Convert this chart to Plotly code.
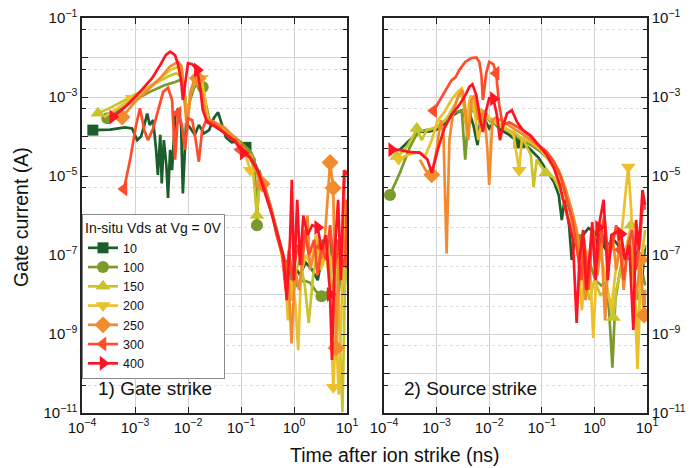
import plotly.graph_objects as go

# ---------------- data (time in ns, gate current in A) ----------------
series_names = ["10", "100", "150", "200", "250", "300", "400"]

# Panel 1: gate strike
gate_t_10 = [1.6e-4, 3.4e-4, 6.5e-4, 8.8e-4, 1.1e-3, 1.3e-3, 1.5e-3, 1.7e-3, 1.9e-3, 2.2e-3, 2.5e-3, 2.7e-3, 3.0e-3, 3.2e-3, 3.5e-3, 3.9e-3, 4.2e-3, 4.6e-3, 5.0e-3, 5.7e-3, 6.5e-3, 7.4e-3, 8.0e-3, 9.2e-3, 1.1e-2, 1.35e-2, 1.6e-2, 2.0e-2, 2.5e-2, 3.1e-2, 3.7e-2, 4.4e-2, 5.2e-2, 6.7e-2, 8.7e-2, 0.124, 0.17, 0.25, 0.35, 0.47, 0.61, 0.70, 0.75, 0.88, 1.0, 1.3, 1.65, 2.2, 2.8, 3.3, 4.2, 5.2, 6.5, 7.4, 8.4, 10.0]
gate_i_10 = [1.45e-4, 1.5e-4, 1.7e-4, 1.6e-4, 8.1e-5, 1.0e-4, 1.95e-4, 3.8e-4, 1.95e-4, 2.6e-4, 4.6e-5, 1.07e-5, 1.1e-4, 6.5e-6, 8.1e-5, 1.9e-5, 2.8e-6, 4.6e-5, 1.4e-5, 3.0e-4, 5.2e-4, 1.95e-4, 3.6e-6, 2.2e-4, 1.65e-4, 1.1e-4, 1.95e-4, 1.2e-4, 1.45e-4, 3.0e-4, 4.1e-4, 1.95e-4, 9.5e-5, 7.1e-5, 7.5e-5, 5.3e-5, 2.6e-5, 8.0e-6, 1.85e-6, 4.3e-7, 1.0e-7, 1.7e-8, 7.5e-8, 7.2e-9, 5.6e-8, 3.1e-8, 6.5e-8, 4.2e-8, 2.3e-8, 7.5e-8, 1.8e-7, 1.0e-7, 2.4e-7, 3.1e-8, 4.3e-7, 1.0e-6]
gate_m_10 = [1.6e-4, 0.124, 4.2]

gate_t_100 = [3.0e-4, 5.2e-4, 1.0e-3, 1.9e-3, 3.7e-3, 5.7e-3, 7.1e-3, 8.4e-3, 9.6e-3, 1.1e-2, 1.3e-2, 1.5e-2, 1.9e-2, 2.2e-2, 2.6e-2, 4.0e-2, 6.2e-2, 9.6e-2, 0.15, 0.18, 0.20, 0.22, 0.28, 0.38, 0.50, 0.64, 0.77, 0.91, 1.15, 1.5, 2.0, 2.6, 3.3, 4.4, 5.5, 6.5, 7.7, 8.8, 10.0]
gate_i_100 = [2.9e-4, 4.7e-4, 8.4e-4, 1.35e-3, 2.0e-3, 2.4e-3, 2.7e-3, 1.7e-3, 4.2e-4, 8.4e-4, 1.7e-3, 2.1e-3, 1.8e-3, 6.3e-4, 2.2e-4, 1.8e-4, 1.2e-4, 7.5e-5, 4.2e-5, 2.6e-5, 5.7e-7, 1.4e-5, 5.9e-6, 1.4e-6, 3.2e-7, 8.7e-8, 1.3e-8, 4.7e-8, 1.7e-8, 2.3e-8, 2.0e-8, 1.2e-8, 9.0e-9, 1.2e-8, 1.7e-8, 4.0e-9, 4.2e-8, 9.7e-9, 1.0e-7]
gate_m_100 = [3.0e-4, 1.9e-2, 0.20, 3.3]

gate_t_150 = [2.0e-4, 3.4e-4, 6.5e-4, 1.24e-3, 2.4e-3, 4.2e-3, 6.0e-3, 7.4e-3, 8.8e-3, 1.0e-2, 1.1e-2, 1.35e-2, 1.7e-2, 2.0e-2, 2.3e-2, 3.2e-2, 5.0e-2, 7.7e-2, 0.12, 0.16, 0.20, 0.23, 0.29, 0.40, 0.52, 0.64, 0.80, 0.95, 1.1, 1.3, 1.6, 1.9, 2.3, 2.8, 3.5, 4.4, 5.5, 6.5, 7.4, 8.2, 9.2, 10.0]
gate_i_150 = [3.9e-4, 5.3e-4, 8.4e-4, 1.35e-3, 2.2e-3, 3.3e-3, 4.0e-3, 3.3e-3, 9.3e-4, 3.5e-4, 1.1e-3, 2.4e-3, 2.7e-3, 1.1e-3, 2.9e-4, 2.1e-4, 1.45e-4, 8.1e-5, 4.6e-5, 3.1e-5, 1.0e-6, 1.07e-5, 4.4e-6, 1.0e-6, 2.4e-7, 6.8e-8, 1.7e-8, 7.2e-9, 4.2e-8, 7.5e-8, 1.7e-8, 1.9e-9, 3.1e-8, 1.35e-7, 5.6e-8, 2.4e-7, 7.2e-9, 7.5e-8, 5.2e-10, 1.05e-11, 2.3e-8, 1.8e-7]
gate_m_150 = [2.0e-4, 0.20, 2.8]

gate_t_200 = [2.6e-4, 4.8e-4, 8.8e-4, 1.55e-3, 2.7e-3, 4.6e-3, 6.3e-3, 7.6e-3, 8.8e-3, 1.0e-2, 1.1e-2, 1.35e-2, 1.8e-2, 2.1e-2, 2.4e-2, 3.7e-2, 5.6e-2, 8.7e-2, 0.11, 0.15, 0.19, 0.25, 0.34, 0.46, 0.57, 0.68, 0.77, 0.88, 1.05, 1.2, 1.35, 1.65, 2.1, 2.6, 3.2, 4.0, 4.8, 5.5, 6.2, 7.0, 8.2, 9.2, 10.0]
gate_i_200 = [3.1e-4, 5.3e-4, 9.3e-4, 1.5e-3, 2.7e-3, 4.8e-3, 5.7e-3, 4.8e-3, 6.3e-4, 2.6e-4, 1.35e-3, 3.0e-3, 3.0e-3, 8.4e-4, 2.6e-4, 1.95e-4, 1.4e-4, 7.7e-5, 5.2e-5, 1.4e-5, 1.6e-5, 7.0e-6, 1.85e-6, 4.3e-7, 1.2e-7, 3.1e-8, 2.2e-9, 2.3e-8, 7.2e-9, 3.9e-10, 3.1e-8, 1.0e-7, 5.6e-8, 3.2e-7, 4.2e-8, 1.35e-7, 1.3e-8, 4.5e-11, 1.26e-9, 2.9e-11, 4.2e-8, 2.5e-6, 1.4e-6]
gate_m_200 = [8.8e-4, 1.8e-2, 0.15, 5.5]

gate_t_250 = [4.2e-4, 5.7e-4, 1.0e-3, 1.75e-3, 3.0e-3, 4.6e-3, 6.5e-3, 7.6e-3, 8.8e-3, 9.6e-3, 1.1e-2, 1.3e-2, 1.5e-2, 1.9e-2, 2.2e-2, 3.2e-2, 5.0e-2, 7.7e-2, 0.12, 0.17, 0.25, 0.33, 0.42, 0.54, 0.68, 0.80, 0.90, 1.05, 1.25, 1.5, 1.8, 2.0, 2.5, 3.1, 3.6, 4.8, 5.5, 6.2, 7.0, 8.2, 9.2, 10.0]
gate_i_250 = [3.5e-4, 3.1e-4, 7.5e-4, 1.5e-3, 3.0e-3, 6.0e-3, 7.7e-3, 6.0e-3, 4.7e-4, 1.45e-4, 1.1e-3, 2.7e-3, 3.0e-3, 1.1e-3, 2.9e-4, 2.3e-4, 1.65e-4, 9.0e-5, 4.6e-5, 1.9e-5, 6.3e-6, 2.5e-6, 6.8e-7, 1.8e-7, 6.8e-8, 1.7e-8, 5.8e-10, 4.2e-8, 1.3e-8, 1.0e-7, 1.0e-6, 4.2e-8, 1.35e-7, 2.4e-7, 8.7e-8, 2.2e-5, 5.0e-6, 4.4e-10, 7.5e-8, 3.2e-7, 1.07e-5, 1.4e-5]
gate_m_250 = [5.7e-4, 1.5e-2, 0.25, 4.8, 5.5, 6.2]

gate_t_300 = [6.2e-4, 8.1e-4, 1.05e-3, 1.24e-3, 1.5e-3, 1.75e-3, 2.2e-3, 2.7e-3, 3.4e-3, 4.2e-3, 5.0e-3, 5.7e-3, 6.5e-3, 7.7e-3, 8.8e-3, 1.0e-2, 1.2e-2, 1.4e-2, 1.6e-2, 1.85e-2, 2.2e-2, 3.1e-2, 4.4e-2, 6.2e-2, 8.0e-2, 9.6e-2, 0.14, 0.19, 0.27, 0.37, 0.47, 0.60, 0.70, 0.80, 0.95, 1.15, 1.4, 1.6, 1.9, 2.4, 2.8, 3.3, 4.0, 4.8, 5.7, 6.8, 7.7, 9.2, 10.0]
gate_i_300 = [4.7e-6, 2.6e-5, 1.95e-4, 5.2e-4, 1.45e-4, 8.1e-5, 1.6e-4, 4.7e-4, 1.35e-3, 1.7e-3, 8.4e-4, 2.6e-5, 3.9e-4, 1.95e-4, 4.6e-5, 2.9e-4, 2.6e-4, 8.1e-5, 2.3e-5, 1.45e-4, 2.6e-4, 2.1e-4, 1.45e-4, 9.0e-5, 8.1e-5, 4.6e-5, 3.4e-5, 1.7e-5, 5.9e-6, 1.4e-6, 3.2e-7, 1.0e-7, 1.3e-8, 1.35e-7, 2.3e-8, 1.8e-7, 5.6e-8, 4.3e-7, 1.0e-7, 2.4e-7, 3.1e-8, 1.6e-7, 7.5e-8, 5.7e-7, 3.1e-8, 2.4e-7, 5.6e-8, 6.5e-8, 2.5e-6]
gate_m_300 = [6.2e-4, 6.5e-3, 9.6e-2, 3.3, 9.2]

gate_t_400 = [3.8e-4, 6.5e-4, 1.24e-3, 2.1e-3, 3.0e-3, 3.8e-3, 4.6e-3, 5.7e-3, 6.5e-3, 7.4e-3, 8.0e-3, 8.8e-3, 1.0e-2, 1.2e-2, 1.5e-2, 1.7e-2, 1.9e-2, 2.3e-2, 3.2e-2, 5.0e-2, 7.7e-2, 0.11, 0.15, 0.21, 0.29, 0.40, 0.52, 0.64, 0.73, 0.84, 0.91, 1.0, 1.15, 1.3, 1.5, 1.8, 2.2, 2.8, 3.3, 4.0, 4.8, 5.2, 5.9, 6.8, 7.7, 8.8, 10.0]
gate_i_400 = [3.1e-4, 5.6e-4, 1.35e-3, 3.0e-3, 6.5e-3, 1.15e-2, 1.4e-2, 1.15e-2, 6.5e-3, 2.7e-3, 8.4e-4, 2.4e-3, 7.2e-3, 6.8e-3, 4.8e-3, 1.7e-3, 4.7e-4, 2.3e-4, 1.8e-4, 1.2e-4, 7.5e-5, 3.8e-5, 2.9e-5, 1.3e-5, 3.3e-6, 8.7e-7, 2.4e-7, 8.7e-8, 7.2e-9, 2.4e-7, 8.0e-6, 2.3e-8, 2.5e-6, 5.6e-8, 1.0e-6, 3.2e-7, 5.7e-7, 5.0e-7, 1.35e-7, 3.2e-7, 1.0e-8, 2.2e-10, 1.35e-7, 2.5e-6, 2.3e-8, 1.4e-5, 1.07e-5]
gate_m_400 = [3.8e-4, 1.5e-2, 0.11, 2.8, 4.8]

# Panel 2: source strike
src_t_10 = [2.0e-4, 3.1e-4, 4.8e-4, 7.4e-4, 1.15e-3, 1.75e-3, 2.5e-3, 3.2e-3, 3.7e-3, 4.2e-3, 5.0e-3, 6.0e-3, 6.8e-3, 8.0e-3, 1.0e-2, 1.2e-2, 1.7e-2, 2.4e-2, 3.7e-2, 5.6e-2, 8.7e-2, 0.124, 0.17, 0.21, 0.24, 0.27, 0.33, 0.37, 0.42, 0.50, 0.61, 0.77, 1.0, 1.3, 1.65, 2.2, 2.8, 3.6, 4.6, 5.7, 6.8, 8.2, 9.2]
src_i_10 = [4.6e-5, 8.1e-5, 1.3e-4, 1.35e-4, 1.6e-4, 3.0e-4, 4.1e-4, 4.6e-4, 1.95e-4, 4.1e-4, 1.95e-4, 6.1e-5, 2.6e-4, 2.9e-4, 1.6e-4, 2.3e-4, 1.45e-4, 1.1e-4, 6.9e-5, 5.2e-5, 2.9e-5, 1.4e-5, 7.0e-6, 3.3e-6, 7.7e-7, 2.5e-6, 5.7e-7, 7.5e-8, 2.4e-7, 1.8e-7, 3.2e-7, 4.8e-7, 3.8e-7, 2.4e-7, 1.35e-7, 2.7e-7, 1.8e-7, 1.0e-7, 2.4e-7, 5.6e-8, 1.35e-7, 3.1e-8, 1.8e-7]
src_m_10 = [3.7e-2, 1.3]

src_t_100 = [1.3e-4, 2.0e-4, 3.1e-4, 4.4e-4, 6.2e-4, 9.5e-4, 1.5e-3, 2.3e-3, 3.0e-3, 3.5e-3, 4.0e-3, 5.0e-3, 6.0e-3, 7.4e-3, 1.0e-2, 1.4e-2, 2.2e-2, 3.7e-2, 6.2e-2, 9.6e-2, 0.135, 0.19, 0.26, 0.34, 0.42, 0.52, 0.64, 0.80, 1.05, 1.35, 1.65, 1.9, 2.2, 2.5, 3.1, 3.8, 4.8, 5.9, 7.0, 8.4, 9.2]
src_i_100 = [3.3e-6, 1.2e-5, 5.3e-5, 1.3e-4, 1.45e-4, 1.6e-4, 2.6e-4, 4.1e-4, 4.6e-4, 2.6e-5, 3.0e-4, 5.2e-4, 3.0e-4, 4.1e-4, 2.6e-4, 1.95e-4, 1.45e-4, 9.0e-5, 6.1e-5, 4.1e-5, 2.6e-5, 1.3e-5, 5.0e-6, 1.4e-6, 3.8e-7, 2.4e-7, 1.2e-7, 6.8e-8, 2.3e-8, 1.7e-8, 2.0e-8, 4.0e-9, 1.4e-10, 7.2e-9, 4.2e-8, 1.0e-7, 7.5e-8, 2.3e-8, 7.2e-9, 3.1e-8, 1.7e-8]
src_m_100 = [1.3e-4, 0.52]

src_t_150 = [1.75e-4, 2.5e-4, 3.4e-4, 4.2e-4, 5.2e-4, 6.5e-4, 8.4e-4, 1.15e-3, 1.6e-3, 2.3e-3, 2.8e-3, 3.2e-3, 3.7e-3, 4.2e-3, 5.0e-3, 6.0e-3, 7.1e-3, 9.2e-3, 1.2e-2, 1.9e-2, 2.9e-2, 4.5e-2, 6.2e-2, 7.0e-2, 8.0e-2, 0.12, 0.17, 0.23, 0.29, 0.39, 0.50, 0.64, 0.80, 1.0, 1.3, 1.6, 2.0, 2.3, 2.6, 3.2, 4.0, 5.0, 5.9, 6.8, 7.7, 9.2]
src_i_150 = [3.1e-5, 4.6e-5, 9.0e-5, 1.6e-4, 8.1e-5, 1.45e-4, 1.6e-4, 1.95e-4, 3.0e-4, 7.0e-4, 1.25e-3, 8.4e-4, 1.45e-4, 8.4e-4, 4.7e-4, 3.0e-4, 4.7e-4, 3.0e-4, 2.3e-4, 1.6e-4, 1.3e-4, 8.1e-5, 3.4e-5, 5.2e-6, 2.6e-5, 1.2e-5, 8.9e-6, 3.9e-6, 1.25e-6, 3.8e-7, 1.35e-7, 4.2e-8, 7.2e-9, 2.3e-8, 9.7e-9, 1.15e-8, 7.2e-9, 2.6e-9, 1.3e-8, 4.2e-8, 1.35e-7, 5.7e-7, 7.2e-9, 1.26e-9, 6.5e-8, 4.3e-7]
src_m_150 = [1.75e-4, 4.2e-4, 0.12, 2.3, 5.0]

src_t_200 = [1.9e-4, 2.8e-4, 4.4e-4, 6.2e-4, 8.1e-4, 1.05e-3, 1.4e-3, 1.9e-3, 2.5e-3, 3.0e-3, 3.4e-3, 3.8e-3, 4.4e-3, 5.2e-3, 6.2e-3, 7.4e-3, 8.4e-3, 1.0e-2, 1.35e-2, 2.1e-2, 2.9e-2, 3.7e-2, 4.2e-2, 6.2e-2, 9.6e-2, 0.135, 0.19, 0.26, 0.34, 0.42, 0.50, 0.58, 0.70, 0.84, 0.95, 1.1, 1.35, 1.65, 2.1, 2.6, 3.2, 3.8, 4.4, 5.0, 5.7, 6.6, 7.4, 8.4, 9.2]
src_i_200 = [2.7e-5, 3.4e-5, 4.0e-5, 3.4e-5, 8.1e-5, 2.6e-4, 4.1e-4, 8.4e-4, 1.35e-3, 1.65e-3, 8.4e-4, 1.1e-4, 1.1e-3, 5.3e-4, 8.1e-5, 3.0e-4, 4.1e-4, 3.0e-4, 2.3e-4, 1.6e-4, 1.1e-4, 1.4e-5, 9.0e-5, 7.1e-5, 4.6e-5, 2.6e-5, 1.3e-5, 5.0e-6, 1.4e-6, 3.8e-7, 7.5e-8, 4.0e-9, 1.35e-7, 3.1e-8, 8.0e-10, 4.2e-8, 1.0e-7, 2.3e-8, 4.0e-9, 5.6e-8, 2.4e-7, 2.5e-6, 1.7e-5, 1.4e-6, 1.3e-8, 1.3e-10, 7.2e-9, 1.35e-7, 1.8e-7]
src_m_200 = [1.9e-4, 3.7e-2, 4.4]

src_t_250 = [4.8e-4, 6.2e-4, 8.1e-4, 1.0e-3, 1.2e-3, 1.35e-3, 1.55e-3, 1.75e-3, 2.1e-3, 2.6e-3, 3.1e-3, 3.5e-3, 4.0e-3, 4.6e-3, 5.2e-3, 6.0e-3, 6.8e-3, 8.0e-3, 9.2e-3, 1.0e-2, 1.15e-2, 1.35e-2, 1.9e-2, 2.9e-2, 4.5e-2, 7.0e-2, 0.11, 0.15, 0.21, 0.28, 0.37, 0.46, 0.57, 0.68, 0.80, 0.95, 1.15, 1.35, 1.6, 1.85, 2.2, 2.6, 3.1, 3.6, 4.4, 5.2, 6.2, 7.4, 8.8, 9.2]
src_i_250 = [2.6e-5, 1.4e-5, 1.07e-5, 4.6e-5, 2.6e-4, 1.1e-4, 1.1e-7, 8.1e-5, 4.7e-4, 1.1e-3, 1.5e-3, 4.7e-4, 8.1e-5, 8.4e-4, 1.1e-3, 3.5e-4, 1.95e-4, 4.7e-4, 5.0e-5, 5.9e-6, 2.6e-4, 3.0e-4, 2.3e-4, 1.6e-4, 1.1e-4, 7.1e-5, 4.6e-5, 2.9e-5, 1.4e-5, 5.0e-6, 1.4e-6, 4.3e-7, 7.5e-8, 7.2e-9, 1.0e-7, 4.3e-7, 3.1e-8, 2.4e-7, 2.2e-9, 1.35e-7, 3.2e-7, 4.2e-8, 1.8e-7, 1.3e-8, 2.4e-7, 1.0e-7, 7.2e-9, 7.5e-8, 3.0e-9, 1.3e-8]
src_m_250 = [8.1e-4, 7.4, 8.8]

src_t_300 = [8.8e-4, 1.15e-3, 1.55e-3, 1.9e-3, 2.3e-3, 2.7e-3, 3.5e-3, 4.6e-3, 5.7e-3, 6.5e-3, 7.1e-3, 7.6e-3, 8.8e-3, 1.0e-2, 1.2e-2, 1.35e-2, 1.55e-2, 1.8e-2, 2.4e-2, 3.7e-2, 5.6e-2, 8.7e-2, 0.124, 0.17, 0.23, 0.29, 0.39, 0.47, 0.57, 0.64, 0.77, 0.91, 1.1, 1.3, 1.55, 1.85, 2.2, 2.6, 3.1, 3.6, 4.4, 5.2, 6.2, 7.4, 8.4, 9.2]
src_i_300 = [4.5e-4, 8.4e-4, 1.7e-3, 2.6e-3, 3.2e-3, 4.8e-3, 7.7e-3, 9.7e-3, 1.0e-2, 7.7e-3, 3.6e-3, 8.4e-4, 4.1e-3, 7.7e-3, 6.8e-3, 4.0e-3, 6.3e-4, 1.95e-4, 2.3e-4, 1.65e-4, 1.1e-4, 6.1e-5, 4.1e-5, 2.3e-5, 9.5e-6, 2.8e-6, 6.8e-7, 1.35e-7, 2.3e-8, 2.4e-7, 1.3e-8, 3.2e-7, 5.6e-8, 2.8e-7, 1.0e-6, 7.5e-8, 1.8e-7, 5.7e-7, 1.35e-7, 2.3e-8, 1.8e-7, 4.3e-7, 4.2e-8, 2.4e-7, 2.5e-6, 1.4e-6]
src_m_300 = [8.8e-4, 1.35e-2, 1.3, 3.1]

src_t_400 = [1.4e-4, 2.0e-4, 3.1e-4, 4.8e-4, 6.7e-4, 8.1e-4, 1.05e-3, 1.4e-3, 1.9e-3, 2.7e-3, 3.5e-3, 4.2e-3, 4.8e-3, 5.7e-3, 6.8e-3, 7.6e-3, 8.8e-3, 1.0e-2, 1.2e-2, 1.4e-2, 1.6e-2, 1.85e-2, 2.2e-2, 2.7e-2, 3.4e-2, 4.4e-2, 6.2e-2, 8.7e-2, 0.124, 0.17, 0.22, 0.27, 0.33, 0.39, 0.46, 0.52, 0.61, 0.70, 0.80, 0.91, 1.05, 1.2, 1.5, 1.8, 2.1, 2.6, 3.2, 3.8, 4.6, 5.5, 6.2, 7.0, 8.2, 9.2]
src_i_400 = [4.6e-5, 4.6e-5, 4.0e-5, 3.9e-5, 2.6e-5, 1.2e-5, 4.6e-5, 1.6e-4, 3.5e-4, 6.3e-4, 1.1e-3, 1.8e-3, 2.1e-3, 1.1e-3, 2.6e-4, 1.3e-4, 4.7e-4, 9.3e-4, 9.0e-4, 3.5e-4, 8.1e-5, 1.95e-4, 3.9e-4, 4.6e-4, 2.3e-4, 1.45e-4, 1.05e-4, 6.1e-5, 3.4e-5, 1.6e-5, 5.9e-6, 1.85e-6, 6.8e-7, 2.4e-7, 1.9e-9, 7.5e-8, 4.3e-7, 1.3e-8, 7.5e-8, 6.8e-7, 2.3e-8, 5.0e-7, 2.5e-6, 2.3e-8, 3.2e-7, 3.8e-7, 3.4e-7, 7.5e-8, 1.8e-7, 1.26e-9, 7.7e-7, 1.35e-7, 4.4e-6, 1.85e-6]
src_m_400 = [1.4e-4, 1.2e-2, 1.2, 3.2]

x_tick_vals = [1e-4, 1e-3, 1e-2, 1e-1, 1e0, 1e1]
x_tick_text = ["10<sup>\u22124</sup>", "10<sup>\u22123</sup>", "10<sup>\u22122</sup>",
               "10<sup>\u22121</sup>", "10<sup>0</sup>", "10<sup>1</sup>"]
y_tick_vals = [1e-11, 1e-10, 1e-9, 1e-8, 1e-7, 1e-6, 1e-5, 1e-4, 1e-3, 1e-2, 1e-1]
y_tick_text = ["10<sup>\u221211</sup>", "", "10<sup>\u22129</sup>", "", "10<sup>\u22127</sup>", "",
               "10<sup>\u22125</sup>", "", "10<sup>\u22123</sup>", "", "10<sup>\u22121</sup>"]
y_minor_vals = [5e-11, 5e-10, 5e-9, 5e-8, 5e-7, 5e-6, 5e-5, 5e-4, 5e-3, 5e-2]

# ---------------- assemble ----------------
gate_data = [(gate_t_10, gate_i_10, gate_m_10), (gate_t_100, gate_i_100, gate_m_100),
             (gate_t_150, gate_i_150, gate_m_150), (gate_t_200, gate_i_200, gate_m_200),
             (gate_t_250, gate_i_250, gate_m_250), (gate_t_300, gate_i_300, gate_m_300),
             (gate_t_400, gate_i_400, gate_m_400)]
src_data = [(src_t_10, src_i_10, src_m_10), (src_t_100, src_i_100, src_m_100),
            (src_t_150, src_i_150, src_m_150), (src_t_200, src_i_200, src_m_200),
            (src_t_250, src_i_250, src_m_250), (src_t_300, src_i_300, src_m_300),
            (src_t_400, src_i_400, src_m_400)]

colors = ["#1b5e2b", "#7a9a2b", "#c9c42c", "#ecc02a", "#f28b2b", "#ff4c2b", "#ff1424"]
symbols = ["square", "circle", "triangle-up", "triangle-down", "diamond", "triangle-left", "triangle-right"]
msizes = [11, 12, 13, 13, 13, 13, 13]

W, H = 698, 468
FONT = "Liberation Sans, Arial, sans-serif"

fig = go.Figure()

for panel, (data, xa, ya) in enumerate([(gate_data, "x", "y"), (src_data, "x2", "y2")]):
    for k, (t, cur, mk) in enumerate(data):
        assert len(t) == len(cur), (panel, k, len(t), len(cur))
        fig.add_trace(go.Scatter(x=t, y=cur, mode="lines", xaxis=xa, yaxis=ya,
                                 line=dict(color=colors[k], width=2.7),
                                 showlegend=False, hoverinfo="skip"))
        idx = [t.index(v) for v in mk]
        fig.add_trace(go.Scatter(x=[t[j] for j in idx], y=[cur[j] for j in idx], mode="markers",
                                 xaxis=xa, yaxis=ya,
                                 marker=dict(symbol=symbols[k], size=msizes[k], color=colors[k],
                                             line=dict(width=0)),
                                 showlegend=False, hoverinfo="skip"))

for k, name in enumerate(series_names):
    fig.add_trace(go.Scatter(x=[None], y=[None], mode="lines+markers", name=name,
                             line=dict(color=colors[k], width=2.7),
                             marker=dict(symbol=symbols[k], size=msizes[k], color=colors[k]),
                             xaxis="x", yaxis="y"))

ydom = [1 - 413 / H, 1 - 18 / H]
axis_common = dict(type="log", showline=True, linecolor="#222", linewidth=1.5, mirror="ticks",
                   ticks="inside", ticklen=6, tickwidth=1.2, tickcolor="#222",
                   showgrid=True, gridcolor="#d2d2d2", gridwidth=1.2, zeroline=False,
                   automargin=False,
                   tickfont=dict(family=FONT, size=15, color="#111"), tickmode="array")

xcommon = dict(axis_common, range=[-4, 1], tickvals=x_tick_vals, ticktext=x_tick_text)
ycommon = dict(axis_common, range=[-11, -1], tickvals=y_tick_vals, ticktext=y_tick_text,
               minor=dict(tickmode="array", tickvals=y_minor_vals, ticks="inside", ticklen=4,
                          tickcolor="#222", showgrid=True, gridcolor="#dcdcdc",
                          griddash="dot", gridwidth=1))

fig.update_layout(
    width=W, height=H,
    margin=dict(l=0, r=0, t=0, b=0, pad=0, autoexpand=False),
    paper_bgcolor="white", plot_bgcolor="white",
    font=dict(family=FONT, color="#111"),
    xaxis=dict(xcommon, domain=[82 / W, 347 / W], anchor="y"),
    yaxis=dict(ycommon, domain=ydom, anchor="x", side="left"),
    xaxis2=dict(xcommon, domain=[384 / W, 647 / W], anchor="y2"),
    yaxis2=dict(ycommon, domain=ydom, anchor="x2", side="right"),
    showlegend=True,
    legend=dict(x=82 / W, y=1 - 214 / H, xanchor="left", yanchor="top",
                bgcolor="white", bordercolor="#8a8a8a", borderwidth=1,
                font=dict(family=FONT, size=12.5, color="#111"),
                title=dict(text="In-situ Vds at Vg = 0V", font=dict(family=FONT, size=14, color="#111")),
                tracegroupgap=0, itemwidth=30),
    annotations=[
        dict(text="1) Gate strike", x=96 / W, y=1 - 388 / H, xref="paper", yref="paper",
             xanchor="left", yanchor="middle", showarrow=False,
             font=dict(family=FONT, size=19, color="#111")),
        dict(text="2) Source strike", x=402 / W, y=1 - 388 / H, xref="paper", yref="paper",
             xanchor="left", yanchor="middle", showarrow=False,
             font=dict(family=FONT, size=19, color="#111")),
        dict(text="Time after ion strike (ns)", x=395 / W, y=1 - 455 / H, xref="paper", yref="paper",
             xanchor="center", yanchor="middle", showarrow=False,
             font=dict(family=FONT, size=19.5, color="#111")),
        dict(text="Gate current (A)", x=21 / W, y=1 - 217 / H, xref="paper", yref="paper",
             xanchor="center", yanchor="middle", showarrow=False, textangle=-90,
             font=dict(family=FONT, size=19.5, color="#111")),
    ],
)

fig.write_html("out.html")
